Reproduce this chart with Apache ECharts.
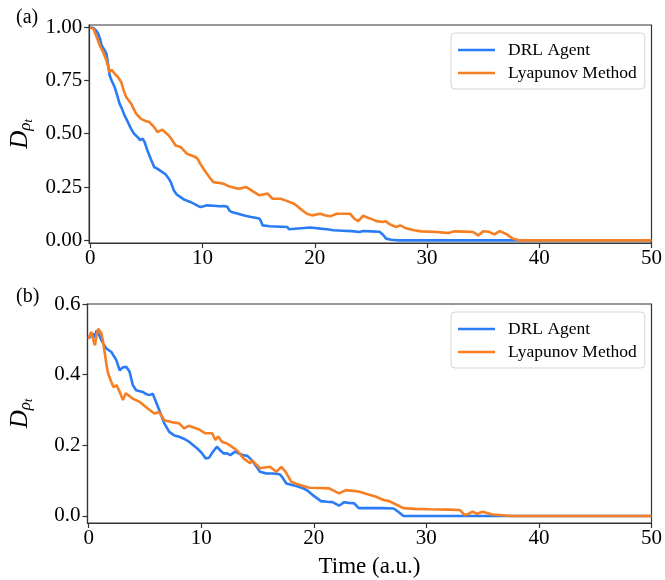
<!DOCTYPE html>
<html>
<head>
<meta charset="utf-8">
<script src="https://cdn.jsdelivr.net/npm/echarts@6/dist/echarts.min.js"></script>
<style>html,body{margin:0;padding:0;background:#fff}#c{width:665px;height:580px}</style>
</head>
<body>
<div id="c"></div>
<script>
// ---- data ----
const seriesNames = ['DRL Agent', 'Lyapunov Method'];
const xTicks = [0, 10, 20, 30, 40, 50];
const yTicksA = [0, 0.25, 0.5, 0.75, 1.0];
const yTicksB = [0, 0.2, 0.4, 0.6];

// panel (a)
const tA_drl = [0,0.3,0.5,0.7,0.9,1.0,1.14,1.3,1.44,1.6,1.73,1.9,2.17,2.4,2.61,2.8,3.05,3.3,3.64,3.9,4.22,4.45,4.66,4.85,5.1,5.4,5.69,6.0,6.42,6.7,7.0,7.2,7.45,7.7,8.04,8.4,8.92,9.3,9.8,10.1,10.38,11.0,11.5,11.85,12.2,12.4,12.58,13.17,13.8,14.34,15.07,15.2,15.36,16,17,17.56,17.7,17.85,19.6,20.5,21.1,21.67,22.5,23.3,24.0,24.3,25.04,25.77,26.1,26.36,26.8,27.5,50];
const vA_drl = [1.0,0.995,0.985,0.97,0.94,0.915,0.906,0.89,0.875,0.82,0.773,0.75,0.719,0.68,0.641,0.62,0.586,0.56,0.523,0.5,0.484,0.47,0.477,0.46,0.42,0.38,0.344,0.335,0.32,0.31,0.289,0.27,0.234,0.215,0.203,0.19,0.18,0.17,0.156,0.16,0.164,0.162,0.16,0.161,0.158,0.14,0.133,0.125,0.115,0.109,0.102,0.09,0.07,0.066,0.064,0.0625,0.052,0.06,0.06,0.055,0.052,0.047,0.045,0.043,0.039,0.044,0.042,0.04,0.025,0.008,0.003,0,0];
const tA_lya = [0,0.3,0.6,0.85,1.14,1.44,1.73,1.9,2.02,2.2,2.46,2.76,3.0,3.2,3.64,4.08,4.52,4.9,5.25,5.69,5.98,6.42,6.7,7.0,7.3,7.6,8.04,8.62,9.36,9.6,9.8,10.1,10.38,10.7,10.97,11.4,11.85,12.29,12.58,13.17,13.5,13.9,14.5,15.07,15.4,15.8,16.24,16.97,17.5,18.15,18.5,18.88,19.3,19.76,20.49,20.9,21.37,21.96,22.7,23.13,23.57,23.87,24.3,24.8,25.19,25.5,26.07,26.3,26.7,27.24,27.6,28.2,28.85,29.5,30.9,31.5,32.0,32.37,33.25,34.1,34.57,35.0,35.5,36.0,36.47,37.06,37.65,38.2,50];
const vA_lya = [1.0,0.99,0.95,0.914,0.883,0.844,0.789,0.8,0.805,0.78,0.766,0.742,0.7,0.672,0.641,0.594,0.57,0.56,0.555,0.531,0.508,0.519,0.505,0.492,0.47,0.445,0.438,0.406,0.391,0.38,0.359,0.335,0.313,0.29,0.273,0.27,0.266,0.255,0.25,0.242,0.245,0.25,0.23,0.211,0.215,0.219,0.195,0.195,0.185,0.172,0.158,0.141,0.125,0.117,0.125,0.118,0.1125,0.125,0.125,0.125,0.1,0.09,0.115,0.105,0.097,0.09,0.086,0.09,0.075,0.0625,0.07,0.055,0.047,0.042,0.039,0.036,0.035,0.042,0.041,0.039,0.023,0.043,0.04,0.028,0.043,0.03,0.008,0.0,0];

// panel (b)
const tB_drl = [0,0.2,0.41,0.55,0.7,0.9,1.14,1.35,1.58,2.02,2.46,2.76,3.0,3.34,3.5,3.64,3.93,4.22,4.81,5.1,5.4,5.7,5.98,6.28,6.72,7.16,7.6,8.04,8.5,8.92,9.3,9.65,10.0,10.38,10.7,11.0,11.4,11.7,12.0,12.29,12.58,13.02,13.4,13.76,14.1,14.49,14.9,15.22,15.8,16.4,16.97,17.2,17.56,18.0,18.59,19.1,19.5,19.91,20.64,21.2,21.67,22.25,22.7,23.1,23.57,24.0,25.0,26.0,27.1,27.5,27.97,50];
const vB_drl = [0.502,0.51,0.516,0.505,0.525,0.515,0.497,0.485,0.474,0.464,0.441,0.412,0.42,0.422,0.415,0.408,0.37,0.356,0.351,0.345,0.342,0.346,0.323,0.299,0.262,0.238,0.228,0.224,0.218,0.21,0.2,0.191,0.18,0.163,0.165,0.18,0.196,0.185,0.177,0.177,0.172,0.182,0.176,0.172,0.17,0.158,0.14,0.125,0.12,0.12,0.118,0.11,0.092,0.088,0.083,0.078,0.07,0.059,0.042,0.04,0.039,0.029,0.039,0.037,0.036,0.022,0.022,0.022,0.021,0.012,0,0];
const tB_lya = [0,0.15,0.26,0.4,0.56,0.7,0.85,1.0,1.14,1.3,1.44,1.6,1.73,2.02,2.2,2.32,2.5,2.76,3.05,3.3,3.6,3.93,4.52,5.25,5.84,6.28,6.72,7.33,8.04,8.48,8.9,9.21,9.8,10.38,10.97,11.26,11.5,11.85,12.29,12.58,13.17,13.76,14.1,14.34,14.5,15.22,16.1,16.68,17.12,17.5,18.0,18.73,19.6,20.5,21.37,22.25,22.84,24.0,24.7,25.48,26.2,26.7,27.4,27.97,29.0,30.3,32.0,32.96,33.4,33.7,34.1,34.5,35.0,35.4,35.9,36.77,37.5,50];
const vB_lya = [0.502,0.515,0.521,0.5,0.483,0.51,0.53,0.525,0.517,0.49,0.46,0.425,0.403,0.379,0.365,0.361,0.37,0.351,0.328,0.347,0.34,0.332,0.323,0.304,0.29,0.294,0.271,0.266,0.262,0.248,0.255,0.252,0.245,0.234,0.234,0.215,0.225,0.21,0.205,0.199,0.186,0.163,0.155,0.149,0.158,0.135,0.139,0.125,0.139,0.125,0.097,0.088,0.08,0.079,0.078,0.064,0.073,0.069,0.062,0.055,0.045,0.042,0.031,0.022,0.02,0.019,0.018,0.017,0.003,0.005,0.012,0.006,0.012,0.008,0.004,0.002,0,0];

// ---- chart ----
const pairs = (t, v) => t.map((x, i) => [x, v[i]]);
const FONT = 'Liberation Serif';
const BLUE = '#2a7cf6';
const ORANGE = '#f57f22';
const FRAME = '#333';

function xAxis(gridIndex, withName) {
  return {
    type: 'value', gridIndex, min: -0.1, max: 50,
    axisLine: {show: true, onZero: false, lineStyle: {color: FRAME, width: 1.2}},
    axisTick: {show: true, inside: false, length: 5, customValues: xTicks, lineStyle: {color: FRAME, width: 1.2}},
    axisLabel: {customValues: xTicks, margin: 5, color: '#000', fontFamily: FONT, fontSize: 21},
    splitLine: {show: false},
    name: withName ? 'Time (a.u.)' : '',
    nameLocation: 'middle', nameGap: 32,
    nameTextStyle: {color: '#000', fontFamily: FONT, fontSize: 23}
  };
}
function yAxis(gridIndex, min, max, ticks, dec) {
  return {
    type: 'value', gridIndex, min, max,
    axisLine: {show: true, onZero: false, lineStyle: {color: FRAME, width: 1.2}},
    axisTick: {show: true, inside: false, length: 5, customValues: ticks, lineStyle: {color: FRAME, width: 1.2}},
    axisLabel: {customValues: ticks, margin: 7, color: '#000', fontFamily: FONT, fontSize: 21,
      formatter: v => v.toFixed(dec)},
    splitLine: {show: false},
    name: '{d|D}{s|ρ}{t|t}',
    nameLocation: 'middle', nameRotate: 90, nameGap: 53,
    nameTextStyle: {
      color: '#000',
      rich: {
        d: {fontFamily: FONT, fontStyle: 'italic', fontSize: 25, color: '#000', lineHeight: 28},
        s: {fontFamily: FONT, fontStyle: 'italic', fontSize: 17, color: '#000', lineHeight: 22, verticalAlign: 'bottom'},
        t: {fontFamily: FONT, fontStyle: 'italic', fontSize: 12, color: '#000', lineHeight: 12, verticalAlign: 'bottom'}
      }
    }
  };
}
function legend(top) {
  return {
    data: seriesNames, orient: 'vertical', left: 451, top,
    icon: 'rect', itemWidth: 37, itemHeight: 2.5, itemGap: 5,
    padding: [8, 8, 7, 7],
    backgroundColor: '#fff', borderColor: '#d4d4d4', borderWidth: 1, borderRadius: 4,
    textStyle: {fontFamily: FONT, fontSize: 17.5, color: '#000', padding: [0, 0, 0, 8]}
  };
}
function line(name, color, data, xi, yi) {
  return {type: 'line', name, xAxisIndex: xi, yAxisIndex: yi, data, symbol: 'none', showSymbol: false,
    lineStyle: {color, width: 2.6}, itemStyle: {color}, animation: false, silent: true, z: 3};
}

const chart = echarts.init(document.getElementById('c'), null, {renderer: 'canvas'});
chart.setOption({
  animation: false,
  backgroundColor: '#fff',
  title: [
    {text: '(a)', left: 11, top: 3, textStyle: {fontFamily: FONT, fontSize: 20, fontWeight: 'normal', color: '#000'}},
    {text: '(b)', left: 11, top: 282, textStyle: {fontFamily: FONT, fontSize: 20, fontWeight: 'normal', color: '#000'}}
  ],
  grid: [
    {left: 84, top: 25, width: 570, height: 218, show: true, borderColor: FRAME, borderWidth: 1.2, backgroundColor: 'transparent'},
    {left: 84, top: 304, width: 570, height: 219, show: true, borderColor: FRAME, borderWidth: 1.2, backgroundColor: 'transparent'}
  ],
  xAxis: [xAxis(0, false), xAxis(1, true)],
  yAxis: [yAxis(0, -0.0125, 1.01, yTicksA, 2), yAxis(1, -0.02, 0.6, yTicksB, 1)],
  legend: [legend(33), legend(312)],
  series: [
    line(seriesNames[0], BLUE, pairs(tA_drl, vA_drl), 0, 0),
    line(seriesNames[1], ORANGE, pairs(tA_lya, vA_lya), 0, 0),
    line(seriesNames[0], BLUE, pairs(tB_drl, vB_drl), 1, 1),
    line(seriesNames[1], ORANGE, pairs(tB_lya, vB_lya), 1, 1)
  ]
});
</script>
</body>
</html>
